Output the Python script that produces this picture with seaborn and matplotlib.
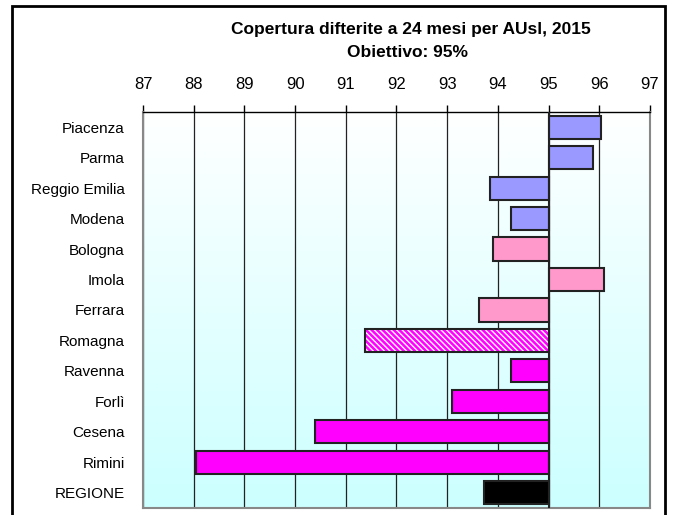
import matplotlib
matplotlib.use("Agg")
import matplotlib.pyplot as plt
import seaborn as sns
import numpy as np
from matplotlib.colors import LinearSegmentedColormap
from matplotlib.patches import Rectangle
from matplotlib.ticker import FuncFormatter

areas = ["Piacenza", "Parma", "Reggio Emilia", "Modena", "Bologna", "Imola", "Ferrara",
         "Romagna", "Ravenna", "Forlì", "Cesena", "Rimini", "REGIONE"]
coverage = [96.03, 95.88, 93.85, 94.26, 93.91, 96.09, 93.62,
            91.38, 94.26, 93.10, 90.40, 88.05, 93.73]
bar_colors = ["#9999FF", "#9999FF", "#9999FF", "#9999FF", "#FF99CC", "#FF99CC", "#FF99CC",
              "#FF00FF", "#FF00FF", "#FF00FF", "#FF00FF", "#FF00FF", "#000000"]
target = 95
x_ticks = list(range(87, 98))

sns.set_style("white")
plt.rcParams["font.family"] = ["Liberation Sans", "DejaVu Sans"]
plt.rcParams["text.color"] = "black"
plt.rcParams["xtick.color"] = "black"
plt.rcParams["ytick.color"] = "black"

fig = plt.figure(figsize=(6.73, 5.15), dpi=100)
ax = fig.add_axes([0.2125, 0.0136, 0.7533, 0.769])

# background gradient white -> light cyan
grad = np.linspace(0, 1, 256).reshape(-1, 1)
cmap = LinearSegmentedColormap.from_list("bg", ["#CCFFFF", "#FFFFFF"])
ax.imshow(grad, extent=(0, 1, 0, 1), transform=ax.transAxes, aspect="auto",
          cmap=cmap, origin="lower", zorder=0)

diffs = [v - target for v in coverage]
sns.barplot(x=diffs, y=areas, hue=areas, palette=bar_colors, legend=False, orient="h",
            width=0.76, edgecolor="#222222", linewidth=1.5, saturation=1, ax=ax, zorder=3)

# hatched Romagna bar
rom = ax.patches[areas.index("Romagna")]
rom.set_hatch("\\\\\\\\\\\\")
rom.set_edgecolor("white")
rom.set_linewidth(0)
ax.add_patch(Rectangle(rom.get_xy(), rom.get_width(), rom.get_height(), fill=False,
                       ec="#222222", lw=1.5, zorder=4))

ax.set_xlim(x_ticks[0] - target, x_ticks[-1] - target)
ax.set_ylim(len(areas) - 0.5, -0.5)
ax.set_xticks([t - target for t in x_ticks])
ax.xaxis.set_major_formatter(FuncFormatter(lambda v, p: f"{v + target:.0f}"))
ax.xaxis.tick_top()
ax.tick_params(axis="x", direction="out", length=5, width=1, color="black",
               labelsize=12, pad=9.5, top=True, bottom=False, labelcolor="black")
ax.tick_params(axis="y", length=0, labelsize=11, pad=13, labelcolor="black")
ax.set_xlabel("")
ax.set_ylabel("")

ax.grid(axis="x", color="#222222", linewidth=0.9, zorder=1)
ax.set_axisbelow(True)
ax.axvline(0, color="#222222", lw=1.5, zorder=5)

for side in ["left", "right", "bottom"]:
    ax.spines[side].set_color("#888888")
    ax.spines[side].set_linewidth(1.5)
ax.spines["top"].set_color("black")
ax.spines["top"].set_linewidth(1)

fig.text(0.61, 0.942, "Copertura difterite a 24 mesi per AUsl, 2015", ha="center",
         va="center", fontsize=12.5, fontweight="bold", color="black")
fig.text(0.605, 0.899, "Obiettivo: 95%", ha="center", va="center",
         fontsize=12.5, fontweight="bold", color="black")

fig.patches.append(Rectangle((12 / 673, -0.05), (665 - 12) / 673, 1.05 - 6 / 515,
                             transform=fig.transFigure, fill=False, ec="black", lw=2))

fig.savefig("out.png", dpi=100)
